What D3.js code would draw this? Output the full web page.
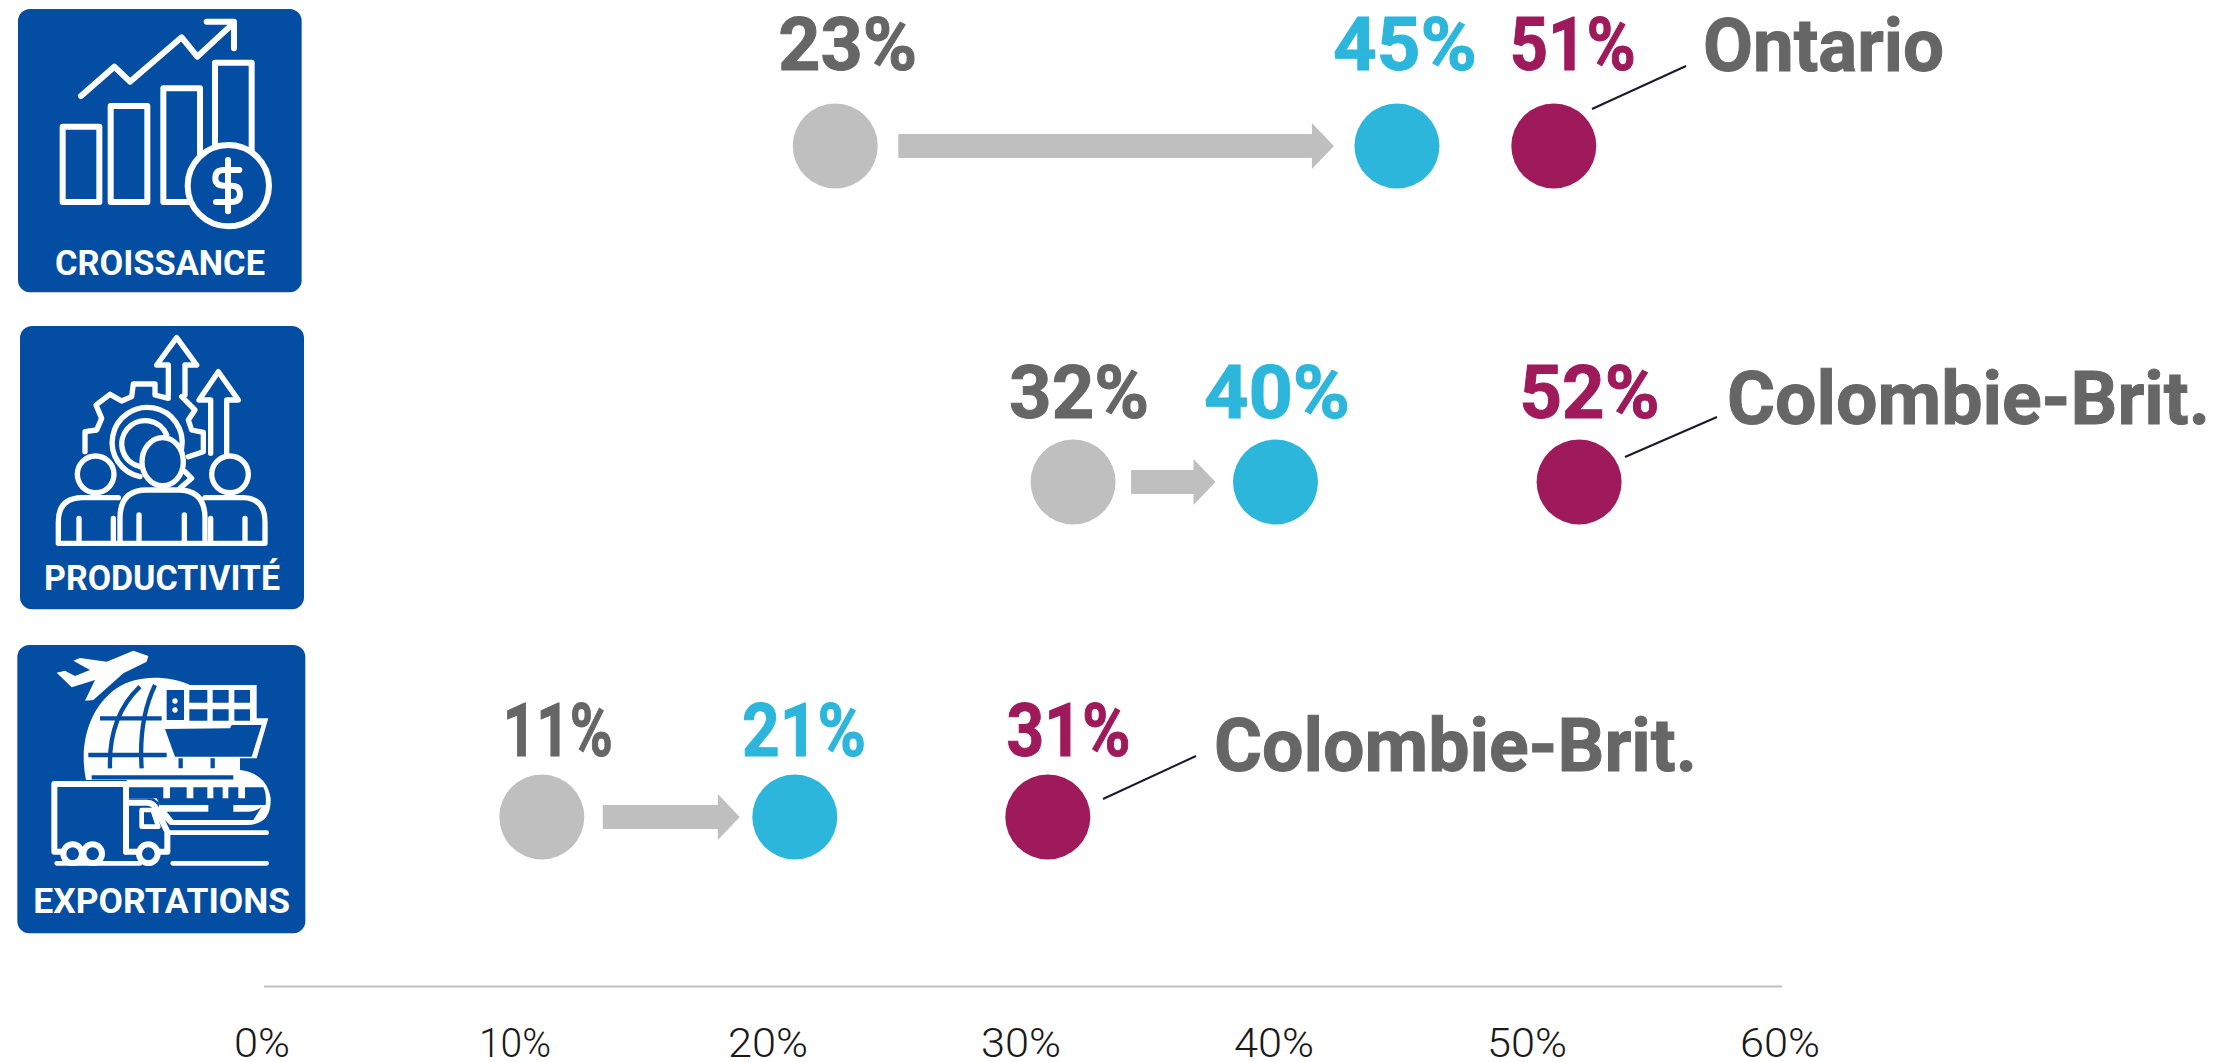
<!DOCTYPE html>
<html><head><meta charset="utf-8">
<script src="https://cdn.jsdelivr.net/npm/d3@7"></script>
<style>html,body{margin:0;background:#fff;overflow:hidden}svg{display:block}text{font-family:Roboto,sans-serif}</style>
</head><body><svg id="c" width="2217" height="1062"></svg>
<script>
// ---- data
const categories = ["CROISSANCE","PRODUCTIVITÉ","EXPORTATIONS"];
const leaders = ["Ontario","Colombie-Brit.","Colombie-Brit."];
const startValues = [22.6,32,11];
const canadaValues = [44.8,40,21];
const leaderValues = [51,52,31];
const startLabels = ["23%","32%","11%"];
const canadaLabels = ["45%","40%","21%"];
const leaderLabels = ["51%","52%","31%"];
const tickValues = [0,10,20,30,40,50,60];
// ---- layout (hand-placed annotations)
const rowY = [146,482,817];
const labelBaseline = [69.5,417.5,755.5];
const labelNudge = [[2.4,3,19],[6,1.5,10.4],[16,9.3,20.7]];
const labelWidth = [[139,144,126],[140,146,140],[110,124,124]];
const nameX = [1703,1727,1214];
const nameBaseline = [71,424,771];
const nameWidth = [241,483,483];
const lead = [[1592,109,1686,66],[1625,457,1717,417],[1103,799,1196,756]];
const arrowOff = [[63,63],[58,60],[61,55]];

const GREY="#bfbfbf",BLUE="#2cb6dc",MAG="#9e1a5b",TXT="#666666",ICON="#034ea2";
const svg=d3.select("#c");
const x=d3.scaleLinear().domain([0,60]).range([263.5,1781.5]);
const r=42.5;

// axis
const ax=svg.append("g").attr("transform","translate(0,986)")
 .call(d3.axisBottom(x).tickValues(tickValues).tickSize(0).tickPadding(0).tickFormat(d=>d+"%"));
ax.select(".domain").attr("stroke",GREY).attr("stroke-width",2);
ax.selectAll("text").attr("x",-2).attr("y",71).attr("dy",0).attr("fill","#1a1a1a").attr("font-size",41).attr("font-weight",300)
  .style("font-family","Roboto").attr("textLength",d=>d===0?56:d===10?72:80).attr("lengthAdjust","spacingAndGlyphs");

// rows
categories.forEach((c,i)=>{
 const g=svg.append("g"), y=rowY[i];
 const s=x(startValues[i]), b=x(canadaValues[i]), m=x(leaderValues[i]);
 const a0=s+arrowOff[i][0], a1=b-arrowOff[i][1];
 g.append("path").attr("fill",GREY).attr("d",
  `M${a0},${y-12}H${a1-22}V${y-23}L${a1},${y}L${a1-22},${y+23}V${y+12}H${a0}Z`);
 [[s,GREY],[b,BLUE],[m,MAG]].forEach(([cx,f])=>g.append("circle").attr("cx",cx).attr("cy",y).attr("r",r).attr("fill",f));
 [[startLabels,TXT],[canadaLabels,BLUE],[leaderLabels,MAG]].forEach(([l,f],k)=>{
  g.append("text").attr("x",x(parseFloat(l[i]))+labelNudge[i][k]).attr("y",labelBaseline[i]).attr("text-anchor","middle")
   .attr("font-size",74).attr("font-weight",700).attr("fill",f).attr("stroke",f).attr("stroke-width",1)
   .attr("textLength",labelWidth[i][k]).attr("lengthAdjust","spacingAndGlyphs").text(l[i]);
 });
 g.append("line").attr("x1",lead[i][0]).attr("y1",lead[i][1]).attr("x2",lead[i][2]).attr("y2",lead[i][3]).attr("stroke","#1a1a2a").attr("stroke-width",2);
 g.append("text").attr("x",nameX[i]).attr("y",nameBaseline[i]).attr("font-size",74).attr("font-weight",700).attr("fill",TXT).attr("stroke",TXT).attr("stroke-width",1)
  .attr("textLength",nameWidth[i]).attr("lengthAdjust","spacingAndGlyphs").text(leaders[i]);
});

// icons, drawn in a 3x coordinate space
function icon(ox,oy,x0,y0,x1,y1,label,lx0,lx1,base,draw){
 const g=svg.append("g").attr("transform",`translate(${ox},${oy}) scale(${1/3})`);
 g.append("rect").attr("x",x0).attr("y",y0).attr("width",x1-x0).attr("height",y1-y0).attr("rx",36).attr("fill",ICON);
 const d=g.append("g").attr("fill","none").attr("stroke","#fff").attr("stroke-width",18).attr("stroke-linejoin","round").attr("stroke-linecap","round");
 draw(d);
 g.append("text").attr("x",lx0).attr("y",base).attr("font-size",103).attr("font-weight",700).attr("fill","#fff")
  .attr("textLength",lx1-lx0).attr("lengthAdjust","spacingAndGlyphs").text(label);
}
icon(0,0,54,27,905,877,categories[0],165,795,825,d=>{
 d.append("path").attr("d","M188,380H298V606H188Z M332,318H442V606H332Z M490,265H600V606H490Z M645,188H755V470H645Z");
 d.append("circle").attr("cx",685).attr("cy",557).attr("r",122).attr("fill",ICON);
 d.append("path").attr("d","M243,288L343,200L390,245L545,112L592,170L700,70M620,65H702V145");
 d.append("path").attr("stroke-width",18).attr("d","M718,510H672Q646,510 646,535Q646,557 672,557H694Q720,557 720,582Q720,606 694,606H648M684,480V634");
});
icon(0,315,60,33,912,883,categories[1],132,840,825,d=>{
 d.attr("stroke-width",16);
 d.append("path").attr("d","M505,240V150H470L530,68L590,150H555V240");
 d.append("path").attr("d","M632,415V255H597L655,170L715,255H680V415");
 d.append("path").attr("d","M505,250L465,240V207H400L395,245L365,258L330,238L288,270L305,310L290,345L255,350V410M545,245L585,285L565,315L575,345L610,352V410L565,425M555,470L575,490L540,520");
 d.append("path").attr("d","M420,485A105,105 0 1 1 545,400M420,455A70,70 0 1 1 500,360");
 d.append("ellipse").attr("cx",488).attr("cy",440).attr("rx",62).attr("ry",72).attr("fill",ICON);
 d.append("ellipse").attr("cx",287).attr("cy",478).attr("rx",55).attr("ry",55).attr("fill",ICON);
 d.append("ellipse").attr("cx",690).attr("cy",478).attr("rx",55).attr("ry",55).attr("fill",ICON);
 d.append("path").attr("d","M175,685V620Q175,550 245,548H355M615,548H730Q795,550 795,620V685M360,685V610Q360,525 440,525H535Q615,525 615,610V685M175,685H795M237,610V685M340,610V685M417,600V685M553,600V685M632,610V685M735,610V685");
});
icon(0,630,52,45,916,910,categories[2],100,870,850,d=>{
 d.append("path").attr("fill","#fff").attr("stroke","none").attr("d","M170,128L195,122L225,138L270,120L220,92L240,84L320,95L400,62L445,78L440,95L370,130L280,210L255,212L285,150L215,172Z");
 d.append("path").attr("fill","#fff").attr("stroke","none").attr("d","M258,450C235,340 270,230 350,175C410,135 500,135 570,165H770V265H805L770,385H720V420Q800,430 812,505Q815,585 740,585H510L470,545L480,520L460,505H380V450Z");
 const blue=d.append("g").attr("stroke",ICON).attr("stroke-width",13).attr("stroke-linecap","butt");
 blue.append("path").attr("d","M300,265H485M265,375H500M330,415Q325,260 420,170M425,415Q415,270 465,165M542,385V415M638,385V415M275,442H700");
 blue.append("path").attr("fill",ICON).attr("stroke","none").attr("d","M500,180H552V270H500ZM568,180H622V218H568ZM638,180H686V218H638ZM703,180H750V218H703ZM568,238H622V272H568ZM638,238H686V272H638ZM703,238H750V272H703ZM495,297L690,295L695,285H785L755,380H525ZM385,472H490V505H385ZM510,472H560V505H510ZM580,472H622V505H580ZM640,472H668V535H640ZM685,472H715V505H685ZM735,472H790Q800,490 797,525H700V548H625V525H480L470,505H735ZM500,545H745Q770,545 785,530L760,570H520Z");
 blue.append("circle").attr("cx",525).attr("cy",213).attr("r",8).attr("fill","#fff").attr("stroke","none");
 blue.append("circle").attr("cx",525).attr("cy",240).attr("r",8).attr("fill","#fff").attr("stroke","none");
 const t=d.append("g").attr("stroke-width",18);
 t.append("path").attr("fill",ICON).attr("d","M182,665H163V462H378V665");
 t.append("path").attr("fill",ICON).attr("d","M378,518H440Q462,518 470,540L502,605V665H378Z");
 t.append("path").attr("fill",ICON).attr("stroke-width",14).attr("d","M425,540H458L475,590H425Z");
 [218,278,445].forEach(cx=>t.append("circle").attr("cx",cx).attr("cy",671).attr("r",28).attr("fill",ICON));
 t.append("path").attr("stroke-width",14).attr("d","M170,700H415M355,700H420M518,700H800M510,608H800");
});
</script></body></html>
